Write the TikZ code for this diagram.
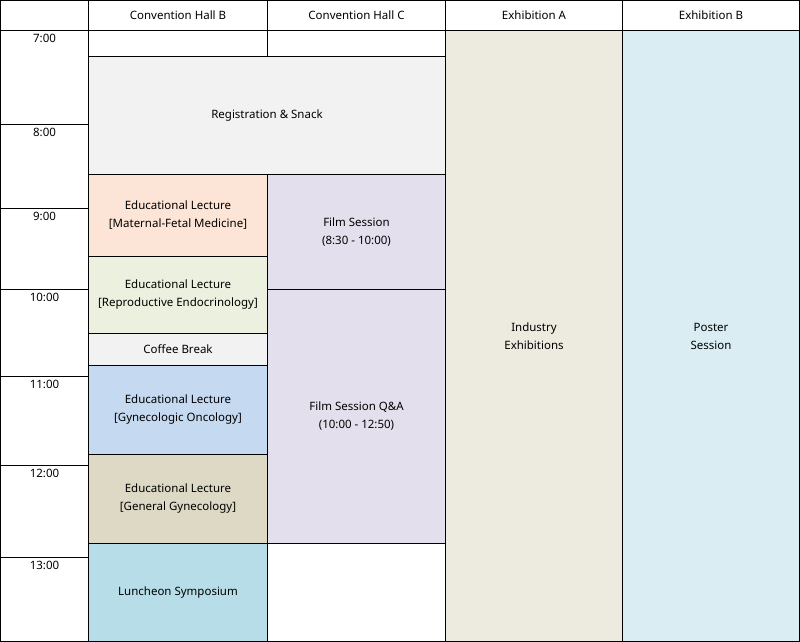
\documentclass[tikz,border=0pt]{standalone}
\usepackage{fontspec}
\setmainfont{Noto Sans}
\definecolor{cgray}{HTML}{F2F2F2}
\definecolor{cmfm}{HTML}{FCE4D6}
\definecolor{cre}{HTML}{EBF1DE}
\definecolor{conc}{HTML}{C5D9F1}
\definecolor{cgen}{HTML}{DDD9C4}
\definecolor{clun}{HTML}{B7DEE8}
\definecolor{cfilm}{HTML}{E4DFEC}
\definecolor{cexa}{HTML}{EDEAE0}
\definecolor{cexb}{HTML}{DAEDF3}
\begin{document}
\begin{tikzpicture}[x=1pt,y=-1pt,
  cell/.style={draw=black, line width=1pt, anchor=north west, inner sep=0pt, outer sep=0pt,
    align=center, font=\fontsize{11.5}{18}\selectfont, text=black},
  sz/.style 2 args={minimum width=#1pt, minimum height=#2pt},
  tlabel/.style={anchor=north, inner sep=0pt, font=\fontsize{11.5}{12}\selectfont, text=black}]
\useasboundingbox (0,0) rectangle (800,642);
% header
\node[cell, sz={88}{30}] (h0) at (0.5,0.5) {};
\node[cell, sz={179}{30}] (hb) at (88.5,0.5) {Convention Hall B};
\node[cell, sz={178}{30}] (hc) at (267.5,0.5) {Convention Hall C};
\node[cell, sz={177}{30}] (ha) at (445.5,0.5) {Exhibition A};
\node[cell, sz={177}{30}] (hx) at (622.5,0.5) {Exhibition B};
% time column
\node[cell, sz={88}{94}] (t7) at (0.5,30.5) {};
\node[cell, sz={88}{84}] (t8) at (0.5,124.5) {};
\node[cell, sz={88}{81}] (t9) at (0.5,208.5) {};
\node[cell, sz={88}{87}] (t10) at (0.5,289.5) {};
\node[cell, sz={88}{89}] (t11) at (0.5,376.5) {};
\node[cell, sz={88}{92}] (t12) at (0.5,465.5) {};
\node[cell, sz={88}{84}] (t13) at (0.5,557.5) {};
\node[tlabel] (l7) at ([yshift=-3pt]t7.north) {7:00};
\node[tlabel] (l8) at ([yshift=-3pt]t8.north) {8:00};
\node[tlabel] (l9) at ([yshift=-3pt]t9.north) {9:00};
\node[tlabel] (l10) at ([yshift=-3pt]t10.north) {10:00};
\node[tlabel] (l11) at ([yshift=-3pt]t11.north) {11:00};
\node[tlabel] (l12) at ([yshift=-3pt]t12.north) {12:00};
\node[tlabel] (l13) at ([yshift=-3pt]t13.north) {13:00};
% hall B / C
\node[cell, sz={179}{26}] (b0) at (88.5,30.5) {};
\node[cell, sz={178}{26}] (c0) at (267.5,30.5) {};
\node[cell, sz={357}{118}, fill=cgray] (reg) at (88.5,56.5) {Registration \& Snack};
\node[cell, sz={179}{82}, fill=cmfm] (mfm) at (88.5,174.5) {Educational Lecture\\{[}Maternal-Fetal Medicine{]}};
\node[cell, sz={179}{77}, fill=cre] (re) at (88.5,256.5) {Educational Lecture\\{[}Reproductive Endocrinology{]}};
\node[cell, sz={179}{32}, fill=cgray] (cof) at (88.5,333.5) {Coffee Break};
\node[cell, sz={179}{89}, fill=conc] (onc) at (88.5,365.5) {Educational Lecture\\{[}Gynecologic Oncology{]}};
\node[cell, sz={179}{89}, fill=cgen] (gen) at (88.5,454.5) {Educational Lecture\\{[}General Gynecology{]}};
\node[cell, sz={179}{98}, fill=clun] (lun) at (88.5,543.5) {Luncheon Symposium};
\node[cell, sz={178}{115}, fill=cfilm] (film) at (267.5,174.5) {Film Session\\(8:30 - 10:00)};
\node[cell, sz={178}{254}, fill=cfilm] (qa) at (267.5,289.5) {Film Session Q\&A\\(10:00 - 12:50)};
\node[cell, sz={178}{98}] (c13) at (267.5,543.5) {};
% exhibitions
\node[cell, sz={177}{611}, fill=cexa] (exa) at (445.5,30.5) {Industry\\Exhibitions};
\node[cell, sz={177}{611}, fill=cexb] (exb) at (622.5,30.5) {Poster\\Session};
\end{tikzpicture}
\end{document}
